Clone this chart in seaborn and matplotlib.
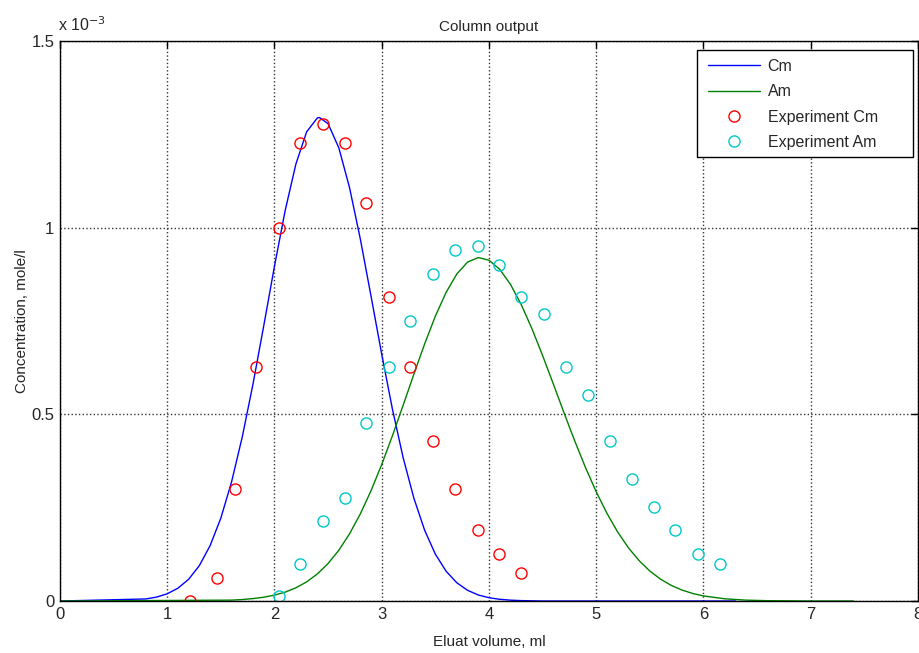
import matplotlib
matplotlib.use("Agg")
import matplotlib.pyplot as plt
from matplotlib.patches import Rectangle
import seaborn as sns

# model curves, concentration in units of 1e-3 mole/l
cm_x = [0.0, 0.8, 0.9, 1.0, 1.1, 1.2, 1.3, 1.4, 1.5, 1.6, 1.7, 1.8, 1.9, 2.0,
        2.1, 2.2, 2.3, 2.4, 2.42, 2.5, 2.6, 2.7, 2.8, 2.9, 3.0, 3.1, 3.2, 3.3,
        3.4, 3.5, 3.6, 3.7, 3.8, 3.9, 4.0, 4.1, 4.2, 4.3, 4.5, 6.3]
cm_y = [0.0, 0.0055, 0.0105, 0.0194, 0.0344, 0.0584, 0.0951, 0.1485, 0.2222,
        0.3193, 0.44, 0.5816, 0.7374, 0.897, 1.0464, 1.1708, 1.2568, 1.294,
        1.295, 1.2785, 1.2138, 1.1071, 0.9702, 0.8169, 0.6608, 0.5136, 0.3835,
        0.2752, 0.1897, 0.1256, 0.0799, 0.0489, 0.0287, 0.0162, 0.0088, 0.0046,
        0.0023, 0.0011, 0.0, 0.0]

am_x = [0.0, 1.6, 1.7, 1.8, 1.9, 2.0, 2.1, 2.2, 2.3, 2.4, 2.5, 2.6, 2.7, 2.8,
        2.9, 3.0, 3.1, 3.2, 3.3, 3.4, 3.5, 3.6, 3.7, 3.8, 3.9, 4.0, 4.1, 4.2,
        4.3, 4.4, 4.5, 4.6, 4.7, 4.8, 4.9, 5.0, 5.1, 5.2, 5.3, 5.4, 5.5, 5.6,
        5.7, 5.8, 5.9, 6.0, 6.2, 6.4, 6.6, 7.0, 7.4]
am_y = [0.0, 0.0024, 0.004, 0.0065, 0.0102, 0.0158, 0.0239, 0.0354, 0.0513,
        0.0726, 0.1005, 0.1361, 0.1801, 0.2332, 0.2953, 0.3658, 0.443, 0.5248,
        0.6078, 0.6886, 0.763, 0.8266, 0.8759, 0.9077, 0.92, 0.9128, 0.8885,
        0.8483, 0.7945, 0.7298, 0.6576, 0.5813, 0.5039, 0.4285, 0.3575, 0.2925,
        0.2348, 0.1848, 0.1427, 0.1081, 0.0803, 0.0585, 0.0418, 0.0293, 0.0202,
        0.0136, 0.0059, 0.0023, 0.0009, 0.0, 0.0]

# experiment points
exp_cm_x = [1.21, 1.46, 1.63, 1.83, 2.04, 2.24, 2.45, 2.66, 2.85, 3.07, 3.26,
            3.48, 3.68, 3.90, 4.09, 4.30]
exp_cm_y = [0.0, 0.062, 0.30, 0.627, 1.0, 1.228, 1.279, 1.228, 1.067, 0.815,
            0.627, 0.429, 0.30, 0.19, 0.126, 0.075]

exp_am_x = [2.04, 2.24, 2.45, 2.66, 2.85, 3.07, 3.26, 3.48, 3.68, 3.90, 4.09,
            4.30, 4.51, 4.72, 4.92, 5.13, 5.33, 5.54, 5.73, 5.95, 6.15]
exp_am_y = [0.013, 0.099, 0.214, 0.276, 0.477, 0.627, 0.75, 0.877, 0.941,
            0.952, 0.90, 0.815, 0.77, 0.627, 0.552, 0.429, 0.327, 0.252, 0.19,
            0.126, 0.099]

x_ticks = [0, 1, 2, 3, 4, 5, 6, 7, 8]
y_ticks = [0, 0.5, 1, 1.5]
y_tick_labels = ["0", "0.5", "1", "1.5"]

sns.set_style("white")
plt.rcParams["font.family"] = ["Liberation Sans", "DejaVu Sans"]

fig = plt.figure(figsize=(9.2, 6.53), dpi=100)
ax = fig.add_axes([0.0652, 0.0796, 0.9326, 0.8576])

sns.lineplot(x=cm_x, y=cm_y, color="#0000ff", linewidth=1, label="Cm", ax=ax)
sns.lineplot(x=am_x, y=am_y, color="#008000", linewidth=1, label="Am", ax=ax)
sns.lineplot(x=exp_cm_x, y=exp_cm_y, color="#ff0000", linestyle="", marker="o",
             markerfacecolor="none", markeredgecolor="#ff0000", markersize=8,
             markeredgewidth=1, label="Experiment Cm", ax=ax)
sns.lineplot(x=exp_am_x, y=exp_am_y, color="#00c8c8", linestyle="", marker="o",
             markerfacecolor="none", markeredgecolor="#00c8c8", markersize=8,
             markeredgewidth=1, label="Experiment Am", ax=ax)

ax.set_xlim(0, 8)
ax.set_ylim(0, 1.5)
ax.set_xticks(x_ticks)
ax.set_yticks(y_ticks)
ax.set_yticklabels(y_tick_labels)
ax.grid(True, linestyle=":", color="#333333", linewidth=1)
ax.tick_params(direction="in", length=5, width=1, top=True, right=True,
               labelsize=12, color="black", pad=4)
for side in ax.spines.values():
    side.set_color("black")
    side.set_linewidth(1)

ax.set_title("Column output", fontsize=11, pad=7)
ax.set_xlabel("Eluat volume, ml", fontsize=11, labelpad=10)
ax.set_ylabel("Concentration, mole/l", fontsize=11, labelpad=2)
ax.text(-0.002, 1.012, r"x 10$^{-3}$", transform=ax.transAxes, fontsize=11.5,
        ha="left", va="bottom")

# MATLAB style legend box, wider than the entries
ax.add_patch(Rectangle((0.742, 0.793), 0.252, 0.191, transform=ax.transAxes,
                       facecolor="white", edgecolor="black", linewidth=1,
                       zorder=4.5))
leg = ax.legend(loc="upper left", bbox_to_anchor=(0.755, 0.968), fontsize=11.5,
                frameon=False, handlelength=3.25, borderpad=0,
                borderaxespad=0, labelspacing=0.65, handletextpad=0.5)
leg.set_zorder(5)

fig.savefig("out.png", dpi=100)
